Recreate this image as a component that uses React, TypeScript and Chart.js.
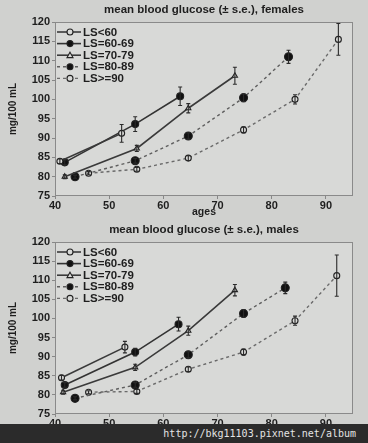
import React, { useEffect, useRef } from "react";
import { Chart, registerables } from "chart.js";
Chart.register(...registerables);

const seriesLabels = ["LS<60", "LS=60-69", "LS=70-79", "LS=80-89", "LS>=90"];
const xTicks = [40, 50, 60, 70, 80, 90];
const yTicks = [75, 80, 85, 90, 95, 100, 105, 110, 115, 120];

// Females: age, mean, standard error per series
const femAges = [
  [40.9, 52.3],
  [41.8, 54.8, 63.1],
  [41.8, 55.1, 64.6, 73.2],
  [43.7, 54.8, 64.6, 74.8, 83.1],
  [46.2, 55.1, 64.6, 74.8, 84.3, 92.3],
];
const femMeans = [
  [84.0, 91.2],
  [83.7, 93.6, 100.8],
  [80.0, 87.3, 97.7, 106.1],
  [80.0, 84.1, 90.5, 100.4, 111.0],
  [80.9, 81.9, 84.8, 92.1, 100.0, 115.5],
];
const femErrs = [
  [0.6, 2.3],
  [0.6, 1.9, 2.4],
  [0.5, 0.8, 1.2, 2.2],
  [0.4, 0.6, 0.8, 1.0, 1.7],
  [0.4, 0.5, 0.6, 0.8, 1.2, 4.1],
];

// Males
const maleAges = [
  [41.2, 52.9],
  [41.8, 54.8, 62.8],
  [41.5, 54.8, 64.6, 73.2],
  [43.7, 54.8, 64.6, 74.8, 82.5],
  [46.2, 55.1, 64.6, 74.8, 84.3, 92.0],
];
const maleMeans = [
  [84.5, 92.5],
  [82.6, 91.2, 98.5],
  [80.7, 87.2, 96.8, 107.4],
  [79.1, 82.6, 90.5, 101.3, 108.0],
  [80.7, 80.9, 86.7, 91.2, 99.4, 111.2],
];
const maleErrs = [
  [0.6, 1.5],
  [0.6, 1.0, 1.8],
  [0.5, 0.8, 1.2, 1.5],
  [0.4, 0.6, 0.8, 1.0, 1.5],
  [0.4, 0.5, 0.6, 0.8, 1.2, 5.4],
];

const BG = "#d0d1cf";
const PLOT_BG = "#d8d9d7";
const INK = "#1e1e1e";
const FONT = "'Liberation Sans', Arial, sans-serif";

const styles = [
  { dash: [], color: "#3a3a3a", width: 1.6, point: "circle", radius: 3, fill: PLOT_BG },
  { dash: [], color: "#333333", width: 1.6, point: "circle", radius: 3.5, fill: "#111" },
  { dash: [], color: "#3a3a3a", width: 1.6, point: "triangle", radius: 3, fill: PLOT_BG },
  { dash: [3, 3], color: "#5e5e5e", width: 1.4, point: "circle", radius: 4, fill: "#111" },
  { dash: [3, 3], color: "#6a6a6a", width: 1.4, point: "circle", radius: 3, fill: PLOT_BG },
];

function makePlugins(title: string) {
  return [
    {
      id: "panelDeco",
      beforeDraw(chart: any) {
        const { ctx, chartArea: a } = chart;
        ctx.save();
        ctx.fillStyle = PLOT_BG;
        ctx.fillRect(a.left, a.top, a.right - a.left, a.bottom - a.top);
        ctx.restore();
      },
      afterDatasetsDraw(chart: any) {
        const { ctx, chartArea: a } = chart;
        const xs = chart.scales.x;
        const ys = chart.scales.y;
        ctx.save();
        // error bars
        chart.data.datasets.forEach((ds: any) => {
          ctx.strokeStyle = "#2a2a2a";
          ctx.lineWidth = 1.1;
          ds.data.forEach((p: any, j: number) => {
            const e = ds.errs[j];
            const px = xs.getPixelForValue(p.x);
            const y1 = ys.getPixelForValue(p.y + e);
            const y2 = ys.getPixelForValue(p.y - e);
            ctx.beginPath();
            ctx.moveTo(px, y1);
            ctx.lineTo(px, y2);
            ctx.moveTo(px - 2, y1);
            ctx.lineTo(px + 2, y1);
            ctx.moveTo(px - 2, y2);
            ctx.lineTo(px + 2, y2);
            ctx.stroke();
          });
        });
        // frame
        ctx.strokeStyle = "#8a8a8a";
        ctx.lineWidth = 1;
        ctx.strokeRect(a.left + 0.5, a.top + 0.5, a.right - a.left - 1, a.bottom - a.top - 1);
        // title
        ctx.fillStyle = INK;
        ctx.font = `600 11.5px ${FONT}`;
        ctx.textAlign = "center";
        ctx.textBaseline = "middle";
        ctx.fillText(title, (a.left + a.right) / 2, 10);
        // legend
        ctx.textAlign = "left";
        ctx.font = `600 11.5px ${FONT}`;
        seriesLabels.forEach((lab, i) => {
          const st = styles[i];
          const y = a.top + 10 + i * 11.6;
          const x0 = a.left + 2;
          ctx.strokeStyle = st.color;
          ctx.lineWidth = st.width;
          ctx.setLineDash(st.dash);
          ctx.beginPath();
          ctx.moveTo(x0, y);
          ctx.lineTo(x0 + 24, y);
          ctx.stroke();
          ctx.setLineDash([]);
          ctx.fillStyle = st.fill;
          ctx.strokeStyle = "#222";
          ctx.lineWidth = 1.1;
          const mx = x0 + 13;
          const r = Math.min(st.radius, 3);
          ctx.beginPath();
          if (st.point === "triangle") {
            ctx.moveTo(mx, y - r);
            ctx.lineTo(mx + r, y + r * 0.8);
            ctx.lineTo(mx - r, y + r * 0.8);
            ctx.closePath();
          } else {
            ctx.arc(mx, y, r, 0, Math.PI * 2);
          }
          ctx.fill();
          ctx.stroke();
          ctx.fillStyle = INK;
          ctx.fillText(lab, x0 + 26, y + 0.5);
        });
        ctx.restore();
      },
    },
  ];
}

function makeConfig(title: string, ages: number[][], means: number[][], errs: number[][], axisH: number, topPad: number) {
  const datasets = seriesLabels.map((label, i) => {
    const st = styles[i];
    return {
      label,
      data: ages[i].map((a, j) => ({ x: a, y: means[i][j] })),
      errs: errs[i],
      showLine: true,
      fill: false,
      borderColor: st.color,
      borderWidth: st.width,
      borderDash: st.dash,
      pointStyle: st.point,
      pointRadius: st.radius,
      pointBackgroundColor: st.fill,
      pointBorderColor: "#222",
      pointBorderWidth: 1.1,
      tension: 0,
    } as any;
  });
  return {
    type: "scatter" as const,
    data: { datasets },
    plugins: makePlugins(title),
    options: {
      animation: false,
      responsive: false,
      devicePixelRatio: 1,
      layout: { padding: { top: topPad, right: 15, left: 0, bottom: 0 } },
      plugins: { legend: { display: false }, tooltip: { enabled: false }, title: { display: false } },
      scales: {
        x: {
          type: "linear",
          min: 40,
          max: 95,
          afterBuildTicks: (s: any) => {
            s.ticks = xTicks.map((v) => ({ value: v }));
          },
          afterFit: (s: any) => {
            s.height = axisH;
          },
          ticks: { color: INK, font: { size: 11, family: FONT, weight: "600" }, padding: 0, maxRotation: 0 },
          grid: { display: true, drawOnChartArea: false, tickLength: 3, color: "#888" },
          border: { display: false },
          title: { display: true, text: "ages", color: INK, font: { size: 10.5, family: FONT, weight: "600" }, padding: { top: 0, bottom: 2 } },
        },
        y: {
          type: "linear",
          min: 75,
          max: 120,
          afterBuildTicks: (s: any) => {
            s.ticks = yTicks.map((v) => ({ value: v }));
          },
          afterFit: (s: any) => {
            s.width = 55;
          },
          ticks: { color: INK, font: { size: 11, family: FONT, weight: "600" }, padding: 2 },
          grid: { display: true, drawOnChartArea: false, tickLength: 3, color: "#888" },
          border: { display: false },
          title: { display: true, text: "mg/100 mL", color: INK, font: { size: 10, family: FONT, weight: "600" }, padding: { top: 7, bottom: 0 } },
        },
      },
    },
  } as any;
}

export default function App() {
  const topRef = useRef<HTMLCanvasElement>(null);
  const botRef = useRef<HTMLCanvasElement>(null);
  useEffect(() => {
    document.body.style.margin = "0";
    const c1 = new Chart(topRef.current!, makeConfig("mean blood glucose (± s.e.), females", femAges, femMeans, femErrs, 24, 22));
    const c2 = new Chart(botRef.current!, makeConfig("mean blood glucose (± s.e.), males", maleAges, maleMeans, maleErrs, 29, 22));
    return () => {
      c1.destroy();
      c2.destroy();
    };
  }, []);
  return (
    <div style={{ position: "fixed", left: 0, top: 0, width: 368, height: 443, background: BG, overflow: "hidden" }}>
      <canvas ref={topRef} width={368} height={220} style={{ position: "absolute", left: 0, top: 0, width: 368, height: 220 }} />
      <canvas ref={botRef} width={368} height={223} style={{ position: "absolute", left: 0, top: 220, width: 368, height: 223 }} />
      <div
        style={{
          position: "absolute",
          left: 0,
          top: 424,
          width: 368,
          height: 19,
          background: "#2b2b2b",
          color: "#e4e4e4",
          fontFamily: "'DejaVu Sans Mono', monospace",
          fontSize: 10,
          lineHeight: "19px",
          textAlign: "right",
          paddingRight: 12,
          boxSizing: "border-box",
          whiteSpace: "nowrap",
        }}
      >
        http://bkg11103.pixnet.net/album
      </div>
    </div>
  );
}
